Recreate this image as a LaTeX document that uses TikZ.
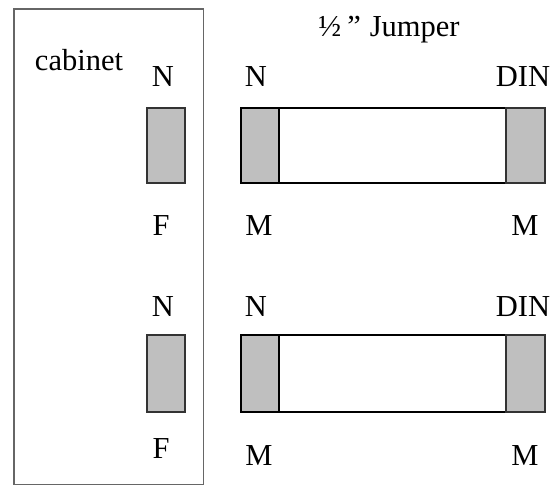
\documentclass[tikz,border=0pt]{standalone}
\usepackage{fontspec}
\setmainfont{Liberation Serif}
\begin{document}
\begin{tikzpicture}[x=1pt,y=-1pt,font=\fontsize{30.5}{32}\selectfont,
  lbl/.style={anchor=base,inner sep=0pt},
  plug/.style={draw=black!80,line width=1.2pt,fill=black!25},
  body/.style={draw=black,line width=1.2pt,fill=white}]
\useasboundingbox (0,0) rectangle (555,485);
\draw[black!60,line width=1.8pt] (14,9) rectangle (203.5,485);
\node[lbl] (cab) at (79,70) {cabinet};
\node[lbl] (title) at (389,36) {½\hspace{6pt}”\hspace{9pt}Jumper};
\foreach \r/\t/\b/\nb/\fb/\mb in {a/108/183/86/235/235,b/335/412/316/458/465} {
  % connector on the cabinet
  \draw[plug] (147,\t) rectangle (185,\b);
  \node[lbl] (cn\r) at (163,\nb) {N};
  \node[lbl] (cf\r) at (161,\fb) {F};
  % jumper cable
  \draw[body] (241,\t) rectangle (545,\b);
  \draw[plug,draw=black] (241,\t) rectangle (279,\b);
  \draw[plug] (506,\t) rectangle (545,\b);
  \node[lbl] (jn\r) at (256,\nb) {N};
  \node[lbl] (jm\r) at (259,\mb) {M};
  \node[lbl] (dn\r) at (523,\nb) {DIN};
  \node[lbl] (dm\r) at (525,\mb) {M};
}
\end{tikzpicture}
\end{document}
